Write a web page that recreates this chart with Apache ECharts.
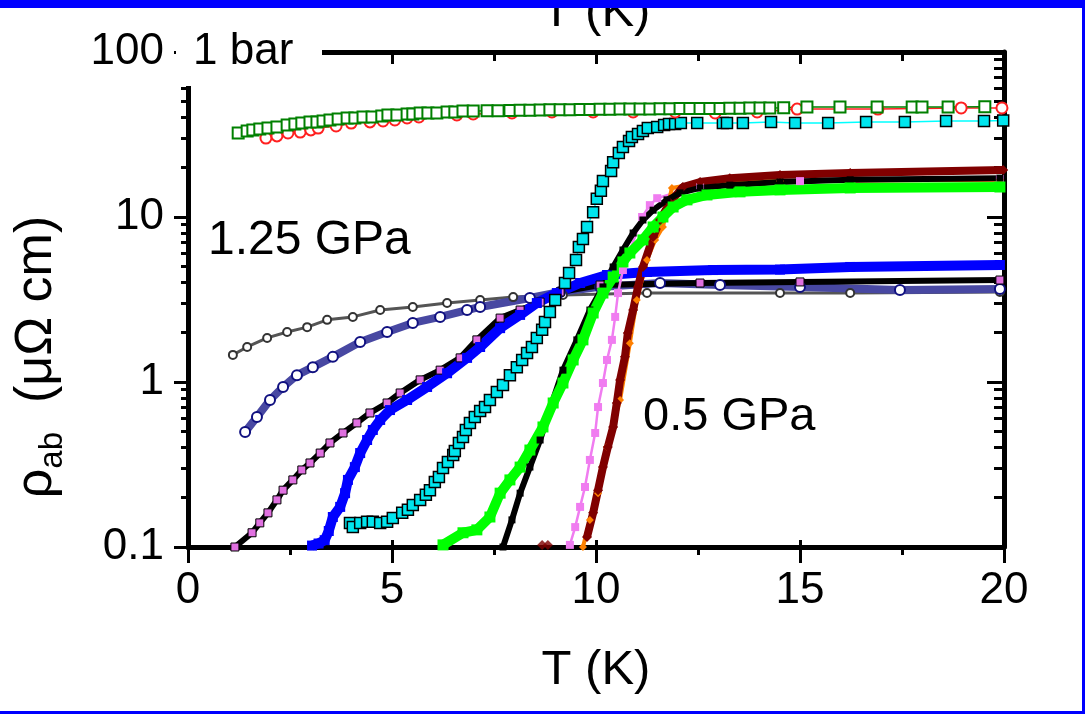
<!DOCTYPE html>
<html><head><meta charset="utf-8">
<script src="https://cdn.jsdelivr.net/npm/echarts@6/dist/echarts.min.js"></script>
<style>html,body{margin:0;padding:0;background:#fff}#c{width:1085px;height:714px}</style>
</head><body><div id="c"></div>
<script>
// ---------- DATA (T in K, rho in µΩ cm) ----------
const xTickLabels = [0, 5, 10, 15, 20];
const yTickLabels = [0.1, 1, 10, 100];
const yMinorTickValues = [0.2,0.3,0.4,0.5,0.6,0.7,0.8,0.9,2,3,4,5,6,7,8,9,20,30,40,50,60,70,80,90];

const green1bar = [[1.23,32.3],[1.45,33.2],[1.59,33.7],[1.76,34.2],[1.96,34.6],[2.18,35.1],[2.43,36.1],[2.62,36.6],[2.79,37.1],[2.99,37.7],[3.16,37.7],[3.31,38.2],[3.48,38.7],[3.68,39.3],[3.90,39.8],[4.09,39.8],[4.29,40.4],[4.51,40.4],[4.75,40.9],[4.90,41.5],[5.12,41.5],[5.37,42.1],[5.51,42.1],[5.69,42.7],[5.88,42.7],[6.10,42.7],[6.35,43.3],[6.54,43.3],[6.74,43.9],[6.99,43.9],[7.33,44.0],[7.60,44.1],[7.89,44.2],[8.14,44.3],[8.38,44.4],[8.63,44.5],[8.87,44.6],[9.12,44.6],[9.36,44.7],[9.61,44.8],[9.85,44.9],[10.10,45.0],[10.34,45.0],[10.59,45.1],[10.83,45.1],[11.08,45.2],[11.32,45.2],[11.57,45.3],[11.81,45.3],[12.06,45.4],[12.30,45.4],[12.55,45.5],[12.79,45.5],[13.04,45.5],[13.28,45.6],[13.53,45.6],[13.77,45.7],[14.02,45.7],[14.26,45.8],[14.60,45.9],[15.17,46.4],[15.98,46.4],[16.89,46.4],[17.75,46.4],[17.99,46.4],[18.63,46.4],[19.53,46.6]];
const red1bar = [[1.91,30.1],[2.18,31.0],[2.45,32.3],[2.75,32.7],[3.01,33.7],[3.19,34.6],[3.63,35.6],[4.00,37.1],[4.46,37.7],[4.78,38.2],[5.07,38.7],[5.37,39.8],[5.66,40.4],[6.59,41.5],[6.99,42.1],[7.94,42.7],[8.92,43.3],[9.93,43.3],[10.91,43.3],[11.94,43.3],[12.92,42.7],[13.95,43.3],[14.93,45.1],[16.91,45.1],[18.95,45.8],[19.95,45.8]];
const cyanSet = [[3.97,0.140],[4.04,0.132],[4.22,0.140],[4.39,0.142],[4.53,0.142],[4.71,0.140],[4.88,0.142],[5.02,0.150],[5.25,0.161],[5.39,0.168],[5.51,0.180],[5.69,0.193],[5.83,0.207],[5.93,0.221],[6.05,0.248],[6.15,0.266],[6.25,0.301],[6.37,0.327],[6.50,0.361],[6.54,0.382],[6.64,0.427],[6.74,0.464],[6.81,0.512],[6.91,0.565],[7.03,0.614],[7.16,0.667],[7.28,0.705],[7.40,0.778],[7.57,0.869],[7.72,0.959],[7.89,1.10],[8.06,1.23],[8.19,1.36],[8.31,1.50],[8.43,1.63],[8.55,1.85],[8.68,2.07],[8.75,2.31],[8.87,2.66],[9.00,3.14],[9.24,3.98],[9.34,4.58],[9.51,5.49],[9.58,6.58],[9.68,7.36],[9.78,8.70],[9.93,10.7],[10.02,12.9],[10.12,14.4],[10.17,16.5],[10.37,19.0],[10.42,21.5],[10.56,24.4],[10.66,26.6],[10.81,28.9],[10.88,30.5],[11.03,31.8],[11.15,33.2],[11.27,34.6],[11.50,35.1],[11.67,36.1],[11.79,36.6],[11.94,36.6],[12.08,37.1],[12.48,37.1],[13.11,37.1],[13.21,37.1],[13.60,37.1],[14.29,37.7],[14.88,37.1],[15.69,37.1],[16.62,37.7],[17.57,37.7],[18.58,38.2],[19.51,38.2],[19.98,38.5]];
const blueSet = [[3.04,0.102],[3.20,0.105],[3.35,0.110],[3.45,0.125],[3.55,0.152],[3.73,0.175],[3.85,0.212],[3.92,0.255],[4.09,0.305],[4.22,0.371],[4.39,0.445],[4.53,0.512],[4.71,0.589],[4.95,0.676],[5.37,0.778],[5.86,0.933],[6.35,1.13],[6.84,1.40],[7.16,1.63],[7.65,2.12],[8.14,2.55],[8.55,3.01],[9.04,3.46],[9.61,3.98],[10.27,4.45],[11.25,4.64],[12.87,4.77],[14.51,4.80],[16.23,4.98],[19.90,5.12]];
const violetLow = [[1.15,0.100],[1.57,0.122],[1.76,0.140],[1.96,0.161],[2.18,0.193],[2.33,0.221],[2.57,0.255],[2.79,0.293],[2.99,0.323],[3.24,0.371],[3.48,0.427],[3.80,0.491],[4.14,0.565],[4.46,0.649],[4.88,0.746],[5.20,0.858],[5.69,1.03],[6.18,1.18],[6.67,1.40],[7.08,1.80],[7.65,2.44],[8.14,2.73],[8.63,3.05],[9.12,3.51],[10.10,3.87],[12.55,3.98],[15.00,4.04],[19.90,4.15]];
const navySet = [[1.40,0.498],[1.69,0.614],[2.01,0.778],[2.33,0.933],[2.67,1.10],[3.06,1.23],[3.55,1.42],[4.22,1.75],[4.88,2.01],[5.51,2.28],[6.18,2.48],[6.84,2.73],[7.16,2.85],[8.38,3.23],[9.12,3.51],[10.10,3.77],[11.57,3.98],[13.04,3.87],[15.00,3.77],[17.45,3.61],[19.90,3.66]];
const greySet = [[1.10,1.46],[1.45,1.63],[1.94,1.85],[2.43,2.01],[2.92,2.15],[3.41,2.38],[4.04,2.48],[4.71,2.73],[5.51,2.85],[6.35,3.01],[7.16,3.14],[7.97,3.27],[9.19,3.37],[11.25,3.46],[14.51,3.46],[16.23,3.46],[19.90,3.51]];
const blackSet = [[7.72,0.100],[7.94,0.146],[8.14,0.212],[8.38,0.305],[8.63,0.445],[8.92,0.746],[9.19,1.18],[9.53,1.80],[9.85,2.73],[10.17,3.77],[10.42,4.98],[10.66,6.31],[10.91,8.0],[11.15,9.59],[11.40,11.0],[11.74,12.7],[12.06,14.0],[12.55,15.0],[13.28,15.6],[14.51,16.3],[16.23,16.8],[19.90,17.2]];
const limeSet = [[6.25,0.103],[6.74,0.122],[7.08,0.127],[7.40,0.152],[7.65,0.212],[7.89,0.255],[8.14,0.305],[8.38,0.387],[8.70,0.534],[8.95,0.746],[9.19,0.986],[9.44,1.36],[9.68,1.80],[9.93,2.62],[10.17,3.46],[10.42,4.33],[10.66,5.34],[10.83,6.05],[11.15,7.26],[11.40,8.70],[11.64,10.0],[11.89,11.5],[12.23,12.7],[12.72,13.6],[13.53,14.2],[14.51,14.6],[16.23,15.0],[19.90,15.2]];
const maroonSet = [[9.78,0.115],[9.93,0.161],[10.05,0.221],[10.17,0.305],[10.29,0.404],[10.42,0.534],[10.51,0.746],[10.59,1.03],[10.71,1.42],[10.78,1.98],[10.91,2.73],[11.03,3.77],[11.15,4.98],[11.40,7.57],[11.57,9.59],[11.81,12.2],[12.13,15.2],[12.55,16.3],[13.28,17.2],[14.51,18.0],[16.23,18.5],[19.98,19.3]];
const maroonStray = [[8.68,0.103],[8.82,0.103]];
const orangeSet = [[9.68,0.100],[9.85,0.146],[10.05,0.212],[10.27,0.404],[10.59,0.778],[10.83,1.72],[11.00,3.14],[11.25,5.49],[11.45,7.26],[11.64,8.70],[11.86,15.0],[12.55,16.1],[14.51,16.5],[19.90,16.8]];
const pinkSet = [[9.36,0.103],[9.49,0.132],[9.61,0.175],[9.73,0.231],[9.85,0.337],[9.98,0.491],[10.05,0.705],[10.17,0.986],[10.27,1.36],[10.39,1.80],[10.47,2.48],[10.54,3.46],[10.66,4.77],[11.13,10.0],[11.32,11.8],[11.50,13.0],[12.55,15.6],[15.00,16.5],[19.90,17.0]];

// ---------- CHART ----------
const FONT = '"Liberation Sans", Arial, sans-serif';
const chart = echarts.init(document.getElementById('c'), null, {renderer: 'canvas'});

function mk(name, data, o) {
  return {
    name, type: 'line', data, xAxisIndex: 0, yAxisIndex: 0,
    symbol: o.symbol, symbolSize: o.size,
    showSymbol: true, clip: true, animation: false,
    lineStyle: {color: o.line || o.color, width: o.lw == null ? 1.5 : o.lw},
    itemStyle: {color: o.fill || o.color, borderColor: o.border || o.color, borderWidth: o.bw || 0},
    emphasis: {disabled: true}, z: 2
  };
}

const logMinor = yMinorTickValues.map(v => Math.log10(v));
const AX = {color: '#000', width: 5};
const TK = {color: '#000', width: 3};

const option = {
  animation: false,
  backgroundColor: '#fff',
  textStyle: {fontFamily: FONT},
  grid: {left: 188, right: 81, top: 52, bottom: 167, containLabel: false},
  xAxis: [
    {type: 'value', min: 0, max: 20, interval: 5, position: 'bottom',
     axisLine: {show: true, onZero: false, lineStyle: AX},
     axisTick: {show: true, inside: false, length: 16, lineStyle: TK},
     minorTick: {show: true, splitNumber: 2, length: 8, lineStyle: TK},
     axisLabel: {show: true, fontSize: 44, color: '#000', fontFamily: FONT, margin: 22},
     splitLine: {show: false}, minorSplitLine: {show: false}},
    {type: 'value', min: 0, max: 20, interval: 5, position: 'top',
     axisLine: {show: true, onZero: false, lineStyle: AX},
     axisTick: {show: true, inside: true, length: 12, lineStyle: TK},
     minorTick: {show: true, splitNumber: 2, length: 9, lineStyle: TK},
     axisLabel: {show: false}, splitLine: {show: false}},
    {type: 'value', min: 0, max: 20, interval: 5, position: 'bottom',
     axisLine: {show: false, onZero: false},
     axisTick: {show: true, inside: true, length: 7, lineStyle: TK},
     axisLabel: {show: false}, splitLine: {show: false}}
  ],
  yAxis: [
    {type: 'log', logBase: 10, min: 0.1, max: 100, position: 'left',
     axisLine: {show: true, onZero: false, lineStyle: AX},
     axisTick: {show: true, inside: false, length: 14, lineStyle: TK},
     axisLabel: {show: true, fontSize: 44, color: '#000', fontFamily: FONT, margin: 24,
                 formatter: v => String(+v)},
     splitLine: {show: false}, minorTick: {show: false}},
    {type: 'value', min: -1, max: 2, position: 'left',
     axisLine: {show: false, onZero: false},
     axisTick: {show: true, inside: false, length: 7, customValues: logMinor, lineStyle: TK},
     axisLabel: {show: false}, splitLine: {show: false}},
    {type: 'value', min: -1, max: 2, interval: 1, position: 'right',
     axisLine: {show: true, onZero: false, lineStyle: AX},
     axisTick: {show: true, inside: true, length: 17, lineStyle: TK},
     axisLabel: {show: false}, splitLine: {show: false}},
    {type: 'value', min: -1, max: 2, position: 'right',
     axisLine: {show: false, onZero: false},
     axisTick: {show: true, inside: true, length: 10, customValues: logMinor, lineStyle: TK},
     axisLabel: {show: false}, splitLine: {show: false}}
  ],
  series: [
    mk('grey', greySet, {symbol: 'emptyCircle', size: 8, color: '#333', line: '#555', lw: 3, bw: 1.8}),
    mk('navy', navySet, {symbol: 'emptyCircle', size: 10, color: '#101080', line: '#4848a2', lw: 8, bw: 2}),
    mk('violetLow', violetLow, {symbol: 'rect', size: 8, color: '#000', fill: '#e070e0', border: '#000', bw: 1, line: '#000', lw: 6}),
    mk('blue', blueSet, {symbol: 'rect', size: 10, color: '#0000ff', lw: 10}),
    mk('pink', pinkSet, {symbol: 'rect', size: 8, color: '#f07cf0', lw: 2.5}),
    mk('orange', orangeSet, {symbol: 'diamond', size: 8, color: '#ff8000', lw: 4}),
    mk('maroon', maroonSet, {symbol: 'diamond', size: 10, color: '#800000', lw: 8}),
    {name: 'maroonStray', type: 'scatter', data: maroonStray, symbol: 'diamond', symbolSize: 10,
     itemStyle: {color: '#800000'}, animation: false, emphasis: {disabled: true}},
    mk('black', blackSet, {symbol: 'rect', size: 7, color: '#000', lw: 6}),
    mk('lime', limeSet, {symbol: 'rect', size: 11, color: '#00ff00', lw: 10}),
    mk('cyan', cyanSet, {symbol: 'rect', size: 11, color: '#00e5ee', fill: '#00e5ee', border: '#000', bw: 1.5, line: '#00ffff', lw: 1.5}),
    mk('red', red1bar, {symbol: 'emptyCircle', size: 11, color: '#ff2020', lw: 1.5, bw: 1.2}),
    mk('green', green1bar, {symbol: 'emptyRect', size: 11, color: '#008000', lw: 1.5, bw: 1.5})
  ],
  graphic: [
    {type: 'text', x: 596, y: 12, z: 90,
     style: {text: 'T (K)', font: '49px ' + FONT, fill: '#000', align: 'center', verticalAlign: 'middle'}},
    {type: 'rect', shape: {x: 0, y: 0, width: 1085, height: 8}, style: {fill: '#0000ff'}, z: 100},
    {type: 'rect', shape: {x: 1082, y: 0, width: 3, height: 714}, style: {fill: '#0000ff'}, z: 100},
    {type: 'rect', shape: {x: 0, y: 711, width: 1085, height: 3}, style: {fill: '#0000ff'}, z: 100},
    {type: 'rect', shape: {x: 176, y: 14, width: 146, height: 72}, style: {fill: '#fff'}, z: 80},
    {type: 'text', x: 193, y: 52, z: 90,
     style: {text: '1 bar', font: '44px ' + FONT, fill: '#000', align: 'left', verticalAlign: 'middle'}},
    {type: 'text', x: 208, y: 241, z: 90,
     style: {text: '1.25 GPa', font: '48px ' + FONT, fill: '#000', align: 'left', verticalAlign: 'middle'}},
    {type: 'text', x: 643, y: 417, z: 90,
     style: {text: '0.5 GPa', font: '47px ' + FONT, fill: '#000', align: 'left', verticalAlign: 'middle'}},
    {type: 'text', x: 596, y: 670, z: 90,
     style: {text: 'T (K)', font: '49px ' + FONT, fill: '#000', align: 'center', verticalAlign: 'middle'}},
    {type: 'text', x: 40, y: 357, rotation: Math.PI / 2, z: 90,
     style: {text: '{a|ρ}{b|ab}{a|  (μΩ cm)}', align: 'center', verticalAlign: 'middle', fill: '#000',
             rich: {a: {fontSize: 52, fontFamily: FONT, verticalAlign: 'bottom', padding: [0, 0, 6, 0], fill: '#000'},
                    b: {fontSize: 33, fontFamily: FONT, verticalAlign: 'bottom', fill: '#000'}}}}
  ]
};
chart.setOption(option);
</script></body></html>
